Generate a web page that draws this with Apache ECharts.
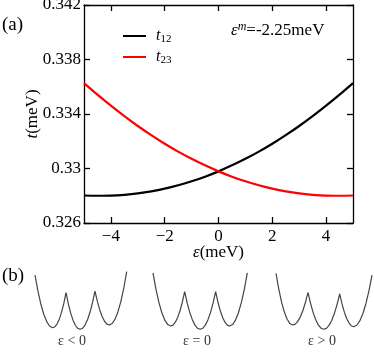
<!DOCTYPE html>
<html><head><meta charset="utf-8">
<script src="https://cdn.jsdelivr.net/npm/echarts@6/dist/echarts.min.js"></script>
<style>html,body{margin:0;padding:0;background:#fff}#c{width:374px;height:355px}</style>
</head><body><div id="c"></div>
<script>
// ---- data (panel a) ----
const eps = [-5,-4.5,-4,-3.5,-3,-2.5,-2,-1.5,-1,-0.5,0,0.5,1,1.5,2,2.5,3,3.5,4,4.5,5];
const t12 = [0.32802,0.32800,0.32801,0.32807,0.32817,0.32832,0.32852,0.32877,0.32906,0.32940,0.32979,0.33023,0.33071,0.33124,0.33182,0.33245,0.33312,0.33384,0.33461,0.33542,0.33627];
const t23 = [0.33627,0.33542,0.33461,0.33384,0.33312,0.33245,0.33182,0.33124,0.33071,0.33023,0.32979,0.32940,0.32906,0.32877,0.32852,0.32832,0.32817,0.32807,0.32801,0.32800,0.32802];
const xTicks = [-4,-2,0,2,4];
const yTicks = [0.326,0.33,0.334,0.338,0.342];
const yTickLabels = ['0.326','0.33','0.334','0.338','0.342'];
// ---- data (panel b): schematic potentials [position, energy] ----
const wellLt0 = [[0,9.48],[0.387,6.70],[0.773,4.43],[1.16,2.67],[1.547,1.41],[1.933,0.65],[2.32,0.40],[2.61,0.57],[2.90,1.07],[3.19,1.91],[3.48,3.08],[3.77,4.59],[4.06,6.43],[4.365,4.50],[4.67,2.92],[4.975,1.70],[5.28,0.82],[5.585,0.30],[5.89,0.12],[6.217,0.30],[6.543,0.85],[6.87,1.77],[7.197,3.05],[7.523,4.70],[7.85,6.72],[8.162,4.93],[8.473,3.46],[8.785,2.33],[9.097,1.51],[9.408,1.02],[9.72,0.86],[10.10,1.12],[10.48,1.88],[10.86,3.16],[11.24,4.94],[11.62,7.24],[12,10.05]];
const wellEq0 = [[0,9.85],[0.375,7.05],[0.75,4.76],[1.125,2.98],[1.5,1.71],[1.875,0.94],[2.25,0.69],[2.547,0.85],[2.843,1.35],[3.14,2.17],[3.437,3.32],[3.733,4.79],[4.03,6.60],[4.358,4.62],[4.687,3.00],[5.015,1.74],[5.343,0.84],[5.672,0.30],[6.0,0.12],[6.328,0.30],[6.657,0.84],[6.985,1.74],[7.313,3.00],[7.642,4.62],[7.97,6.60],[8.267,4.79],[8.563,3.32],[8.86,2.17],[9.157,1.35],[9.453,0.85],[9.75,0.69],[10.125,0.94],[10.5,1.71],[10.875,2.98],[11.25,4.76],[11.625,7.05],[12,9.85]];
const wellGt0 = [[0,9.78],[0.348,7.05],[0.697,4.82],[1.045,3.09],[1.393,1.85],[1.742,1.11],[2.09,0.86],[2.408,1.02],[2.727,1.49],[3.045,2.27],[3.363,3.37],[3.682,4.78],[4.0,6.50],[4.327,4.55],[4.653,2.96],[4.98,1.72],[5.307,0.83],[5.633,0.30],[5.96,0.12],[6.293,0.29],[6.627,0.80],[6.96,1.64],[7.293,2.83],[7.627,4.35],[7.96,6.21],[8.252,4.49],[8.543,3.08],[8.835,1.98],[9.127,1.20],[9.418,0.73],[9.71,0.57],[10.092,0.82],[10.473,1.56],[10.855,2.80],[11.237,4.53],[11.618,6.76],[12,9.48]];
const wellLabels = ['ε < 0','ε = 0','ε > 0'];

const SERIF = 'Liberation Serif';
const axisLine = {onZero:false, lineStyle:{color:'#000', width:1.3}};
const tickStyle = {lineStyle:{color:'#000', width:1.3}};

const chart = echarts.init(document.getElementById('c'), null, {renderer:'canvas'});
const wellGrids = [
  {left:35, top:269.1, width:91.7, height:60.9},
  {left:153, top:269.1, width:94.3, height:60.9},
  {left:276, top:269.1, width:96, height:60.9}
];
const wells = [wellLt0, wellEq0, wellGt0];
const wellLabelX = [72, 197, 322];

const option = {
  animation:false,
  backgroundColor:'#fff',
  grid:[{left:84, top:5, width:269, height:218, outerBoundsMode:'none'}].concat(wellGrids.map(g=>Object.assign({outerBoundsMode:'none'}, g))),
  legend:{
    left:118, top:23, orient:'vertical', icon:'rect', itemWidth:23, itemHeight:2, itemGap:4,
    data:['t12','t23'], selectedMode:false,
    formatter: n => '{i|t}{s|' + n.slice(1) + '}',
    textStyle:{rich:{
      i:{fontFamily:SERIF, fontStyle:'italic', fontSize:16, color:'#000', padding:[0,0,0,5]},
      s:{fontFamily:SERIF, fontSize:11, color:'#000', padding:[7,0,0,0]}
    }}
  },
  xAxis:[
    {gridIndex:0, type:'value', min:-5, max:5, position:'bottom',
     axisLine, axisTick:Object.assign({inside:true, length:6, customValues:xTicks}, tickStyle),
     axisLabel:{customValues:xTicks, formatter:v=> v<0 ? '\u2212'+Math.abs(v) : String(v), fontFamily:SERIF, fontSize:17, color:'#000', margin:5},
     splitLine:{show:false},
     name:'{e|ε}{r|(meV)}', nameLocation:'middle', nameGap:21, nameMoveOverlap:false,
     nameTextStyle:{rich:{e:{fontFamily:SERIF, fontStyle:'italic', fontSize:17, color:'#000'}, r:{fontFamily:SERIF, fontSize:17, color:'#000'}}}},
    {gridIndex:0, type:'value', min:-5, max:5, position:'top',
     axisLine, axisTick:Object.assign({inside:true, length:6, customValues:xTicks}, tickStyle),
     axisLabel:{show:false}, splitLine:{show:false}},
    {gridIndex:1, type:'value', min:0, max:12, show:false},
    {gridIndex:2, type:'value', min:0, max:12, show:false},
    {gridIndex:3, type:'value', min:0, max:12, show:false}
  ],
  yAxis:[
    {gridIndex:0, type:'value', min:0.326, max:0.342, position:'left',
     axisLine, axisTick:Object.assign({inside:true, length:6, customValues:yTicks}, tickStyle),
     axisLabel:{customValues:yTicks, formatter:v=>{const i=yTicks.findIndex(t=>Math.abs(t-v)<1e-9); return i>=0?yTickLabels[i]:'';}, fontFamily:SERIF, fontSize:17, color:'#000', margin:3},
     splitLine:{show:false},
     name:'{i|t}{r|(meV)}', nameLocation:'middle', nameGap:43, nameMoveOverlap:false,
     nameTextStyle:{rich:{i:{fontFamily:SERIF, fontStyle:'italic', fontSize:17, color:'#000'}, r:{fontFamily:SERIF, fontSize:17, color:'#000'}}}},
    {gridIndex:0, type:'value', min:0.326, max:0.342, position:'right',
     axisLine, axisTick:Object.assign({inside:true, length:6, customValues:yTicks}, tickStyle),
     axisLabel:{show:false}, splitLine:{show:false}},
    {gridIndex:1, type:'value', min:0, max:10.5, show:false},
    {gridIndex:2, type:'value', min:0, max:10.5, show:false},
    {gridIndex:3, type:'value', min:0, max:10.5, show:false}
  ],
  series:[
    {type:'line', name:'t12', xAxisIndex:0, yAxisIndex:0, data:eps.map((e,i)=>[e,t12[i]]),
     symbol:'none', smooth:0.3, color:'#000', lineStyle:{color:'#000', width:2.2}},
    {type:'line', name:'t23', xAxisIndex:0, yAxisIndex:0, data:eps.map((e,i)=>[e,t23[i]]),
     symbol:'none', smooth:0.3, color:'#ff0000', lineStyle:{color:'#ff0000', width:2.2}}
  ].concat(wells.map((w,k)=>({
    type:'line', name:'well'+k, xAxisIndex:2+k, yAxisIndex:2+k, data:w,
    symbol:'none', silent:true, color:'#444', lineStyle:{color:'#444', width:1.2}
  }))),
  graphic:[
    {type:'text', left:2, top:16, style:{text:'(a)', font:'19px "Liberation Serif"', fill:'#000'}},
    {type:'text', left:2, top:267, style:{text:'(b)', font:'19px "Liberation Serif"', fill:'#000'}},
    {type:'text', left:231, top:21, style:{text:'{e|ε}{m|m}{r|=-2.25meV}', rich:{
      e:{fontFamily:SERIF, fontStyle:'italic', fontSize:17, fill:'#000'},
      m:{fontFamily:SERIF, fontStyle:'italic', fontSize:12, fill:'#000', padding:[0,0,7,0]},
      r:{fontFamily:SERIF, fontSize:17, fill:'#000'}
    }}}
  ].concat(wellLabels.map((s,k)=>({
    type:'text', x:wellLabelX[k], y:341, style:{text:s, font:'14px "Liberation Serif"', fill:'#333', align:'center', verticalAlign:'middle'}
  })))
};
chart.setOption(option);
</script></body></html>
